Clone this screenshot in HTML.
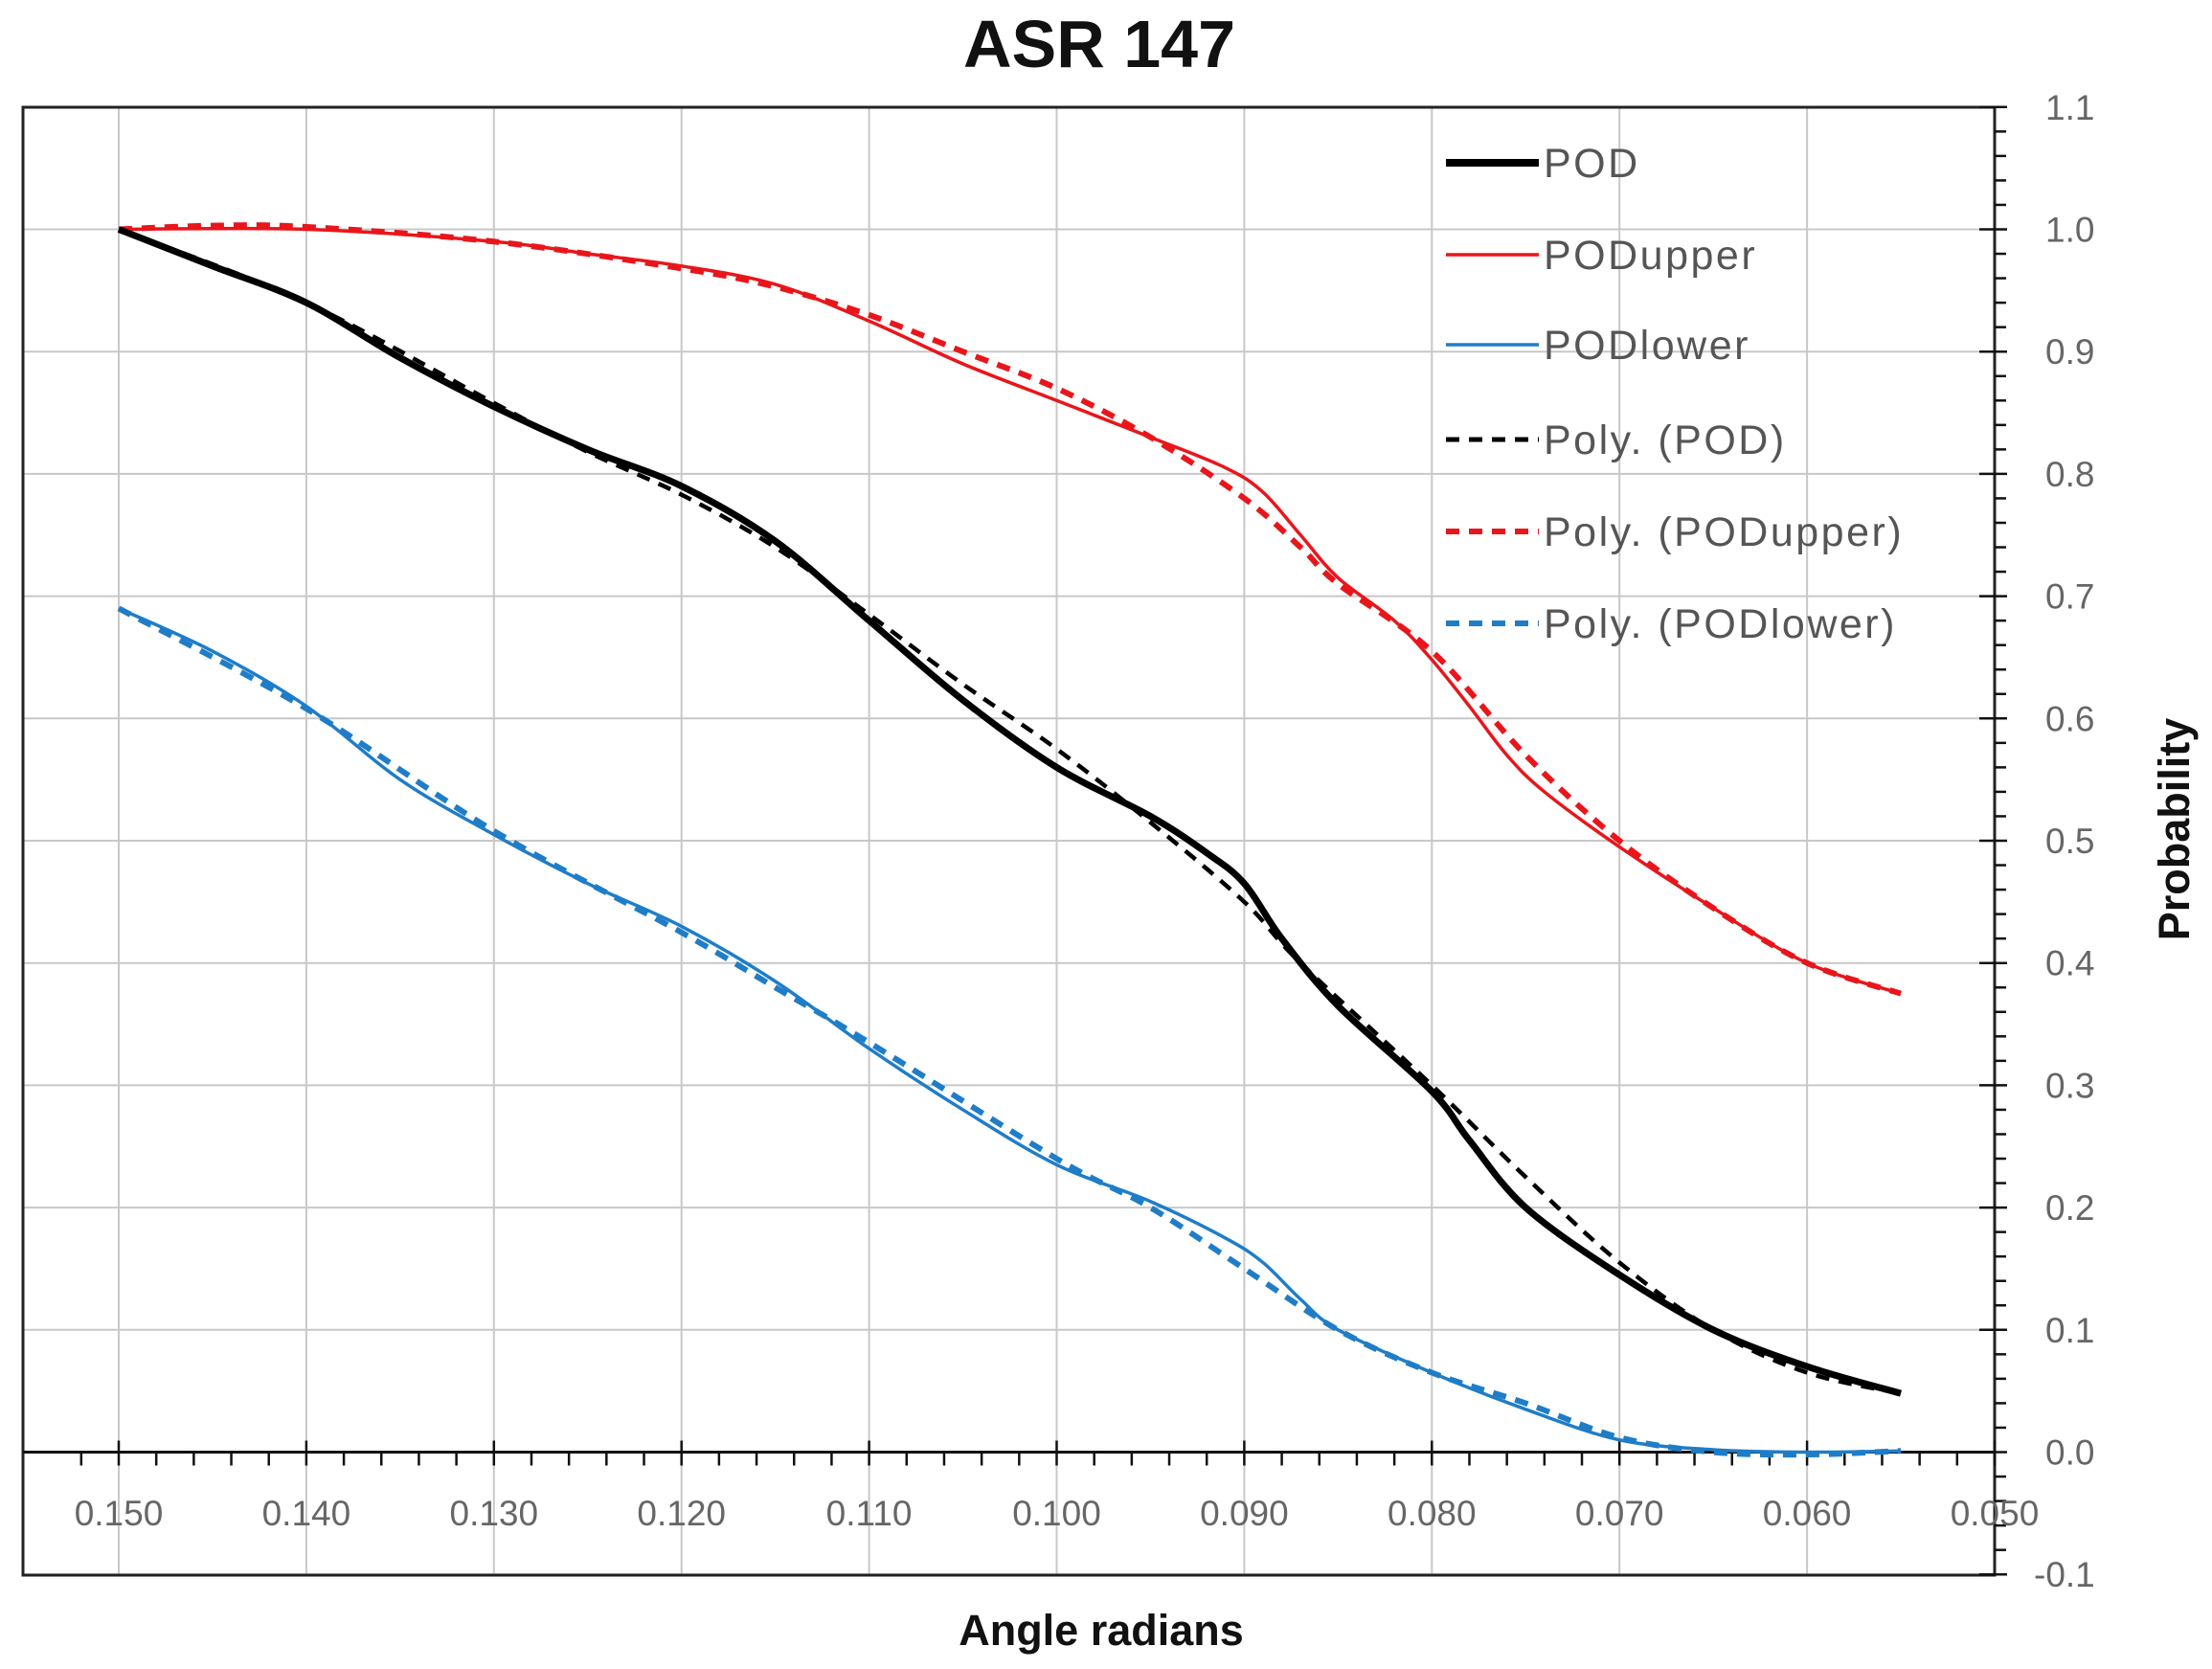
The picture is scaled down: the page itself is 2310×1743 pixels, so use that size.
<!DOCTYPE html>
<html><head><meta charset="utf-8"><style>
html,body{margin:0;padding:0;background:#fff;}
svg{display:block;}
</style></head><body>
<svg id="s" width="2310" height="1743" xmlns="http://www.w3.org/2000/svg" font-family="Liberation Sans, sans-serif"></svg>
<script>
const s=document.getElementById('s');
const X=a=>124+(0.15-a)*19590, Y=v=>1516.5-v*1277;
let h='';
for(let i=0;i<=10;i++){const x=X(0.15-i*0.01);h+=`<line x1="${x}" y1="112" x2="${x}" y2="1645" stroke="#c8c8c8" stroke-width="2"/>`;}
for(let i=-1;i<=11;i++){const y=Y(i/10);h+=`<line x1="24" y1="${y}" x2="2083" y2="${y}" stroke="#c8c8c8" stroke-width="2"/>`;}
h+=`<rect x="24" y="112" width="2059" height="1533" fill="none" stroke="#222" stroke-width="3"/>`;
const y0=Y(0);
h+=`<line x1="24" y1="${y0}" x2="2083" y2="${y0}" stroke="#111" stroke-width="3"/>`;
for(let k=0;k<=55;k++){const a=0.152-k*0.002;const x=X(a);if(x<24||x>2084)continue;const maj=(k-1)%5==0;
 h+=`<line x1="${x}" y1="${maj?y0-12:y0}" x2="${x}" y2="${y0+14}" stroke="#111" stroke-width="2.5"/>`;}
for(let k=-5;k<=55;k++){const y=Y(k*0.02);const maj=k%5==0;
 h+=`<line x1="${maj?2067:2083}" y1="${y}" x2="${maj?2096:2095}" y2="${y}" stroke="#111" stroke-width="2.5"/>`;}
const xl=['0.150','0.140','0.130','0.120','0.110','0.100','0.090','0.080','0.070','0.060','0.050'];
xl.forEach((t,i)=>{h+=`<text x="${X(0.15-i*0.01)}" y="1593" font-size="37" fill="#666" text-anchor="middle">${t}</text>`;});
for(let i=-1;i<=11;i++){const t=(i<0?'-':'')+(Math.abs(i)/10).toFixed(1);h+=`<text x="${i<0?2124:2136}" y="${Y(i/10)+13}" font-size="37" fill="#666">${t}</text>`;}
h+=`<text x="1148" y="70" font-size="70" font-weight="bold" text-anchor="middle" fill="#111">ASR 147</text>`;
h+=`<text x="1150" y="1718" font-size="45" font-weight="bold" text-anchor="middle" fill="#111">Angle radians</text>`;
h+=`<text transform="translate(2286,866) rotate(-90)" font-size="45" font-weight="bold" text-anchor="middle" fill="#111">Probability</text>`;
function path(pts){const P=pts.map(p=>[X(p[0]),Y(p[1])]);let d=`M${P[0][0]},${P[0][1]}`;
 for(let i=0;i<P.length-1;i++){const p0=P[Math.max(0,i-1)],p1=P[i],p2=P[i+1],p3=P[Math.min(P.length-1,i+2)];
 d+=` C${p1[0]+(p2[0]-p0[0])/6},${p1[1]+(p2[1]-p0[1])/6} ${p2[0]-(p3[0]-p1[0])/6},${p2[1]-(p3[1]-p1[1])/6} ${p2[0]},${p2[1]}`;}return d;}
const RED='#e8161b',BLUE='#1f7dc8';
const pod=[[0.150,1.0],[0.145,0.97],[0.140,0.94],[0.135,0.895],[0.130,0.855],[0.125,0.82],[0.120,0.79],[0.115,0.745],[0.110,0.68],[0.105,0.615],[0.100,0.56],[0.095,0.52],[0.092,0.49],[0.090,0.465],[0.088,0.42],[0.085,0.365],[0.080,0.295],[0.078,0.255],[0.075,0.2],[0.070,0.145],[0.065,0.1],[0.060,0.07],[0.055,0.048]];
const ppod=[[0.150,1.0],[0.14,0.94],[0.13,0.858],[0.125,0.818],[0.120,0.783],[0.115,0.74],[0.110,0.685],[0.105,0.628],[0.100,0.575],[0.095,0.515],[0.090,0.45],[0.087,0.4],[0.080,0.3],[0.075,0.225],[0.070,0.155],[0.065,0.1],[0.060,0.065],[0.055,0.048]];
const up=[[0.15,1.0],[0.14,1.0],[0.13,0.99],[0.125,0.98],[0.12,0.97],[0.115,0.955],[0.11,0.925],[0.105,0.89],[0.10,0.86],[0.095,0.83],[0.091,0.805],[0.089,0.785],[0.087,0.75],[0.085,0.715],[0.082,0.68],[0.080,0.648],[0.078,0.61],[0.076,0.57],[0.074,0.54],[0.070,0.495],[0.065,0.445],[0.060,0.4],[0.055,0.375]];
const pup=[[0.15,1.0],[0.145,1.003],[0.14,1.002],[0.13,0.99],[0.12,0.968],[0.115,0.953],[0.11,0.93],[0.105,0.9],[0.1,0.87],[0.095,0.83],[0.09,0.78],[0.087,0.74],[0.085,0.71],[0.08,0.655],[0.075,0.57],[0.07,0.5],[0.065,0.445],[0.06,0.4],[0.055,0.375]];
const lo=[[0.15,0.69],[0.145,0.655],[0.14,0.61],[0.135,0.55],[0.13,0.505],[0.125,0.465],[0.12,0.43],[0.115,0.385],[0.11,0.33],[0.105,0.28],[0.1,0.235],[0.095,0.205],[0.091,0.175],[0.089,0.155],[0.087,0.125],[0.085,0.1],[0.08,0.065],[0.075,0.035],[0.07,0.01],[0.065,0.002],[0.06,0.0],[0.055,0.001]];
const plo=[[0.15,0.69],[0.14,0.608],[0.13,0.508],[0.12,0.425],[0.115,0.38],[0.11,0.335],[0.1,0.24],[0.095,0.2],[0.09,0.15],[0.085,0.1],[0.08,0.065],[0.075,0.04],[0.07,0.012],[0.065,0.0],[0.06,-0.002],[0.055,0.001]];
const L=(d,c,w,dash)=>`<path d="${d}" fill="none" stroke="${c}" stroke-width="${w}" ${dash?'stroke-dasharray="14,10"':''} stroke-linejoin="round"/>`;
h+=L(path(up),RED,3.5)+L(path(pup),RED,6,1);
h+=L(path(lo),BLUE,3.5)+L(path(plo),BLUE,6,1);
h+=L(path(pod),'#000',7)+L(path(ppod),'#000',4.5,1);
const leg=[['POD','#000',8,0],['PODupper',RED,3.5,0],['PODlower',BLUE,3.5,0],['Poly. (POD)','#000',5,1],['Poly. (PODupper)',RED,6,1],['Poly. (PODlower)',BLUE,6,1]];
const ly=[170,266,360,459,555,651];
leg.forEach((l,i)=>{h+=`<line x1="1510" y1="${ly[i]}" x2="1607" y2="${ly[i]}" stroke="${l[1]}" stroke-width="${l[2]}" ${l[3]?'stroke-dasharray="14,10"':''}/>`;
 h+=`<text x="1612" y="${ly[i]+15}" font-size="43" fill="#555" letter-spacing="2.5">${l[0]}</text>`;});
s.innerHTML=h;
</script>
</body></html>
